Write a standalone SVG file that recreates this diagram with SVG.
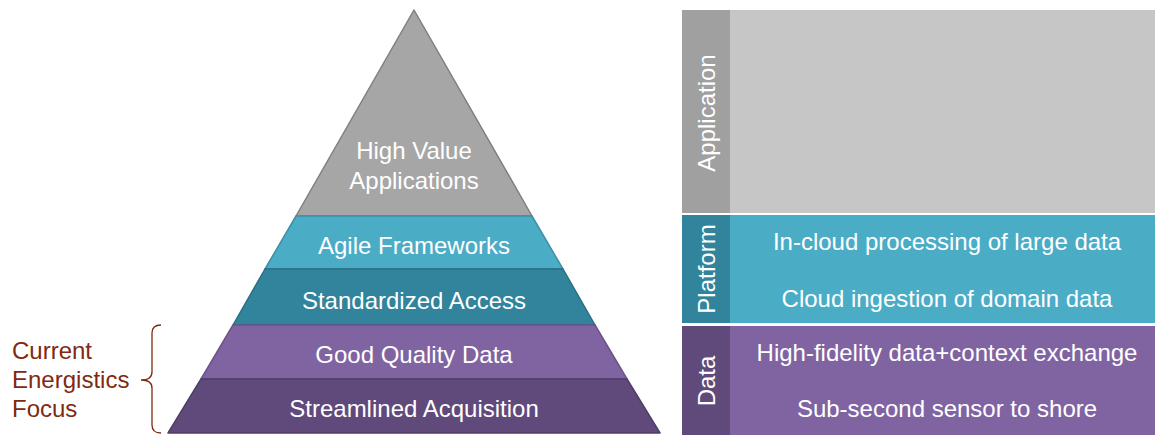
<svg xmlns="http://www.w3.org/2000/svg" width="1155" height="435" viewBox="0 0 1155 435">
<style>
text{font-family:"Liberation Sans",Arial,sans-serif;font-size:24px;fill:#fff;text-anchor:middle}
.lbl{fill:#7F2A10;text-anchor:start}
.lay{stroke-width:1.5;stroke-linejoin:round}
</style>
<rect width="1155" height="435" fill="#fff"/>
<g id="pyramid">
<g id="high-value"><polygon class="lay" points="414,10 296,216 532,216" fill="#A6A6A6" stroke="#7F7F7F"/><text x="414" y="159">High Value</text><text x="414" y="189">Applications</text></g>
<g id="agile"><polygon class="lay" points="296,216 532,216 563,269 265,269" fill="#4BACC6" stroke="#3E8FA6"/><text x="414" y="254">Agile Frameworks</text></g>
<g id="standardized"><polygon class="lay" points="265,269 563,269 595,325 233,325" fill="#31849B" stroke="#296F82"/><text x="414" y="309">Standardized Access</text></g>
<g id="goodquality"><polygon class="lay" points="233,325 595,325 627,379 201,379" fill="#8064A2" stroke="#6B5388"/><text x="414" y="363">Good Quality Data</text></g>
<g id="streamlined"><polygon class="lay" points="201,379 627,379 660,433 168,433" fill="#604A7B" stroke="#503E67"/><text x="414" y="417">Streamlined Acquisition</text></g>
</g>
<g id="focus">
<path d="M161,325 Q152,325 152,333 L152,372 Q152,380 141,380 Q152,380 152,388 L152,425 Q152,433 161,433" fill="none" stroke="#7F2A10" stroke-width="1.3"/>
<text class="lbl" x="12" y="359">Current</text>
<text class="lbl" x="12" y="388">Energistics</text>
<text class="lbl" x="12" y="417">Focus</text>
</g>
<g id="application">
<rect x="682" y="10" width="48" height="203" fill="#A0A0A0"/>
<rect x="730" y="10" width="425" height="203" fill="#C6C6C6"/>
<text transform="translate(714.5,113) rotate(-90)">Application</text>
</g>
<g id="platform">
<rect x="682" y="215" width="48" height="108" fill="#31849B"/>
<rect x="730" y="215" width="425" height="108" fill="#4BACC6"/>
<text transform="translate(714.5,269) rotate(-90)">Platform</text>
<text x="947" y="250">In-cloud processing of large data</text>
<text x="947" y="307">Cloud ingestion of domain data</text>
</g>
<g id="data">
<rect x="682" y="326" width="48" height="109" fill="#604A7B"/>
<rect x="730" y="326" width="425" height="109" fill="#8064A2"/>
<text transform="translate(714.5,381) rotate(-90)">Data</text>
<text x="947" y="361">High-fidelity data+context exchange</text>
<text x="947" y="417">Sub-second sensor to shore</text>
</g>
<g id="connectors"/>
</svg>
